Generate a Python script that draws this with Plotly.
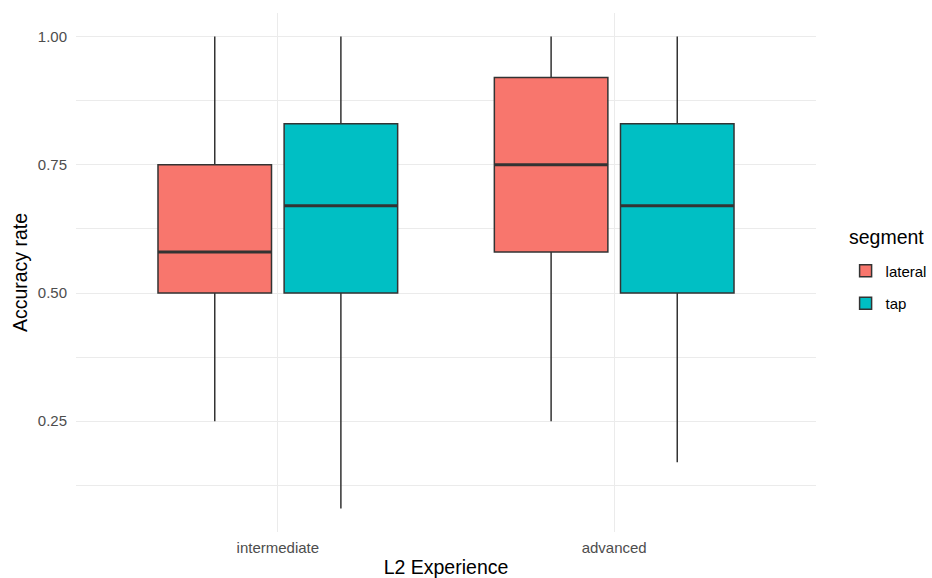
import plotly.graph_objects as go

# Categories and groups
experience = ["intermediate", "advanced"]
segments = ["lateral", "tap"]
seg_colors = ["#F8766D", "#00BFC4"]

# Five-number summaries per segment (one value per experience level)
lateral_low = [0.25, 0.25]
lateral_q1 = [0.50, 0.58]
lateral_med = [0.58, 0.75]
lateral_q3 = [0.75, 0.92]
lateral_high = [1.00, 1.00]

tap_low = [0.08, 0.17]
tap_q1 = [0.50, 0.50]
tap_med = [0.67, 0.67]
tap_q3 = [0.83, 0.83]
tap_high = [1.00, 1.00]

y_major = [0.25, 0.50, 0.75, 1.00]
y_major_text = ["0.25", "0.50", "0.75", "1.00"]

summaries = [
    (lateral_low, lateral_q1, lateral_med, lateral_q3, lateral_high),
    (tap_low, tap_q1, tap_med, tap_q3, tap_high),
]

BOXGAP = 0.25
GROUPGAP = 0.1
OUTLINE = "#333333"
GRID = "#EBEBEB"
FONT = "Liberation Sans"

fig = go.Figure()

for name, color, (lo, a, m, b, hi) in zip(segments, seg_colors, summaries):
    fig.add_trace(go.Box(
        name=name,
        x=experience,
        lowerfence=lo, q1=a, median=m, q3=b, upperfence=hi,
        fillcolor=color,
        line=dict(color=OUTLINE, width=1.5),
        whiskerwidth=0,
        boxpoints=False,
        legendgroup=name,
        hoverinfo="skip",
    ))

# Thicker median bars, drawn on a linear overlay axis aligned with the category slots
n = len(segments)
slot = (1 - BOXGAP) / n
half = slot * (1 - GROUPGAP) / 2
for k, (name, (lo, a, m, b, hi)) in enumerate(zip(segments, summaries)):
    off = (k - (n - 1) / 2) * slot
    xs, ys = [], []
    for i, val in enumerate(m):
        xs += [i + off - half, i + off + half, None]
        ys += [val, val, None]
    fig.add_trace(go.Scatter(
        x=xs, y=ys, xaxis="x2", mode="lines",
        line=dict(color=OUTLINE, width=3),
        showlegend=False, hoverinfo="skip",
    ))

# Legend heading as a separate label so its spacing above the keys can be set freely
fig.add_annotation(
    text="segment", xref="paper", yref="paper",
    x=1.042, y=0.568, xanchor="left", yanchor="middle",
    showarrow=False, font=dict(size=19.5, color="black", family=FONT),
)

fig.update_layout(
    width=932, height=578,
    margin=dict(l=76, r=116, t=13, b=46, autoexpand=False),
    paper_bgcolor="white", plot_bgcolor="white",
    font=dict(family=FONT, color="#4D4D4D", size=15),
    boxmode="group", boxgap=BOXGAP, boxgroupgap=GROUPGAP,
    showlegend=True,
    legend=dict(
        font=dict(size=15, color="black"),
        x=1.04, xanchor="left", y=0.472, yanchor="middle",
        bgcolor="rgba(0,0,0,0)",
        tracegroupgap=10,
    ),
    xaxis=dict(
        type="category",
        categoryorder="array", categoryarray=experience,
        range=[-0.6, len(experience) - 0.4],
        showgrid=True, gridcolor=GRID, gridwidth=1.4,
        zeroline=False, showline=False, ticks="",
        ticklabelstandoff=5, automargin=False,
        tickfont=dict(size=15, color="#4D4D4D"),
        title=dict(text="L2 Experience", font=dict(size=19.5, color="black"), standoff=6),
    ),
    xaxis2=dict(
        overlaying="x", range=[-0.6, len(experience) - 0.4],
        visible=False, showgrid=False, zeroline=False,
    ),
    yaxis=dict(
        range=[0.034, 1.046],
        tickvals=y_major, ticktext=y_major_text,
        showgrid=True, gridcolor=GRID, gridwidth=1.4,
        minor=dict(tickvals=[0.125, 0.375, 0.625, 0.875], showgrid=True,
                   gridcolor=GRID, gridwidth=0.7, ticks=""),
        zeroline=False, showline=False, ticks="",
        ticklabelstandoff=8, automargin=False,
        tickfont=dict(size=15, color="#4D4D4D"),
        title=dict(text="Accuracy rate", font=dict(size=19.5, color="black"), standoff=4),
    ),
)

fig.write_html("out.html")
